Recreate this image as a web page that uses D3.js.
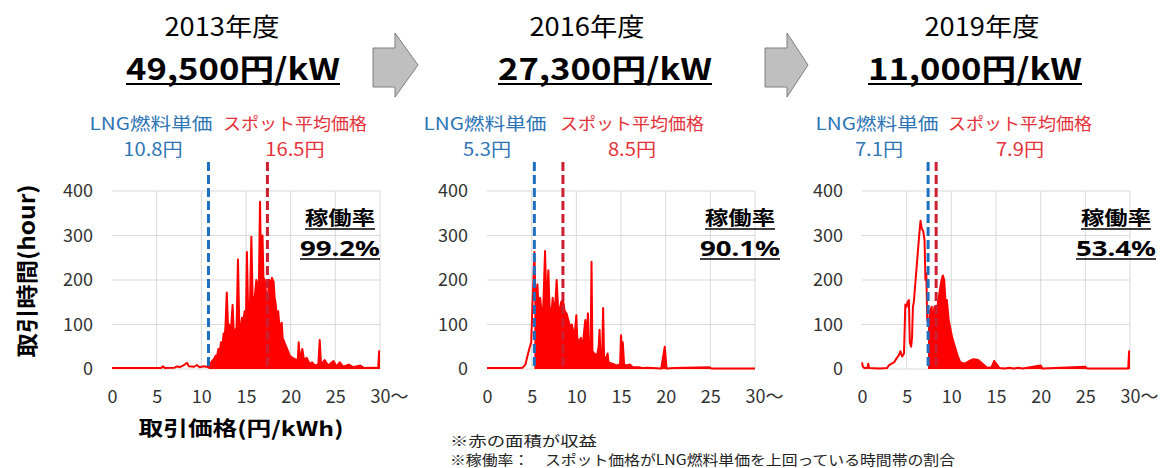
<!DOCTYPE html>
<html>
<head>
<meta charset="utf-8">
<script src="https://cdn.jsdelivr.net/npm/d3@7"></script>
<style>
  body { margin: 0; background: #fff; }
  svg { display: block; font-family: "Noto Sans CJK JP", "Noto Sans", sans-serif; }
</style>
</head>
<body>
<svg id="chart" width="1166" height="468"></svg>
<script>
const years = ["2013年度", "2016年度", "2019年度"];
const capacityPrices = ["49,500円/kW", "27,300円/kW", "11,000円/kW"];
const lngLabels = ["10.8円", "5.3円", "7.1円"];
const spotLabels = ["16.5円", "8.5円", "7.9円"];
const rates = ["99.2%", "90.1%", "53.4%"];
// where the dashed markers are drawn on the price axis
const lngMarker = [10.8, 5.3, 7.4];
const spotMarker = [17.4, 8.5, 8.3];
const xTicks = [0, 5, 10, 15, 20, 25, 30];
const yTicks = [0, 100, 200, 300, 400];

// [price (円/kWh), hours]
const series2013 = [[0,2],[5.5,2],[5.7,6],[5.9,2],[7.0,3],[7.3,6],[7.6,4],[8.0,8],[8.4,14],[8.6,6],[9.2,5],[9.5,9],[9.8,4],[10.3,6],[10.8,4],
  [11.0,12],[11.2,18],[11.4,22],[11.6,30],[11.8,32],[11.9,45],[12.0,35],[12.1,45],[12.2,60],[12.3,50],[12.4,60],[12.5,80],[12.6,70],[12.7,95],[12.85,172],[13.0,90],
  [13.1,100],[13.2,70],[13.35,100],[13.5,144],[13.65,75],[13.8,85],[13.95,95],
  [14.1,246],[14.25,100],[14.4,90],[14.55,115],[14.7,105],[14.85,130],[15.0,120],[15.1,263],[15.25,120],[15.35,145],[15.45,150],[15.6,297],[15.75,150],[15.9,160],
  [16.0,165],[16.15,200],[16.3,180],[16.45,200],[16.57,376],[16.7,210],[16.85,300],[16.95,205],[17.1,200],[17.2,180],[17.35,150],[17.5,175],[17.6,200],[17.75,190],
  [17.9,205],[18.1,195],[18.2,160],[18.3,150],[18.45,120],[18.6,130],[18.75,95],[18.9,100],[19.0,104],[19.1,70],[19.3,60],[19.6,45],[19.8,35],[19.9,30],[20.2,25],
  [20.5,22],[20.8,20],[20.9,60],[21.0,30],[21.2,35],[21.3,45],[21.5,20],[21.8,25],[22.1,12],[22.4,15],[22.7,8],[23.1,10],[23.25,65],[23.4,10],[23.8,20],[24.2,8],
  [24.8,18],[25.1,6],[25.5,15],[25.9,5],[26.5,10],[27.0,4],[27.8,8],[28.2,2],[29.3,3],[29.8,2],[29.9,40],[30,40]];

const series2016 = [[0,2],[3.5,2],[4.0,3],[4.3,10],[4.6,35],[4.8,50],[4.95,60],[5.1,150],[5.2,200],[5.3,263],[5.4,180],[5.5,140],[5.65,190],[5.8,120],[5.95,160],
  [6.1,130],[6.3,140],[6.5,265],[6.65,150],[6.75,170],[6.87,222],[7.0,140],[7.2,120],[7.35,160],[7.5,130],[7.65,150],[7.8,200],[7.95,140],[8.1,130],[8.3,150],
  [8.5,155],[8.7,130],[8.9,125],[9.1,110],[9.3,95],[9.5,100],[9.7,80],[9.85,85],[10.0,121],[10.1,70],[10.3,60],[10.5,70],[10.7,50],[11.0,110],[11.1,60],
  [11.3,125],[11.4,50],[11.6,45],[11.7,241],[11.8,40],[12.0,35],[12.3,30],[12.5,50],[12.6,88],[12.7,30],[12.9,40],[13.0,137],[13.1,30],[13.3,20],[13.5,35],
  [13.6,15],[14.0,12],[14.5,8],[14.9,10],[15.0,76],[15.1,40],[15.2,60],[15.35,10],[15.6,8],[16.0,10],[16.3,4],[17,4],[17.5,2],[18,3],[19.5,1],[19.9,50],[20.1,1],
  [21,2],[24.9,4],[25.1,1],[30,1]];

const series2019 = [[0,15],[0.1,5],[0.3,2],[0.6,2],[0.7,12],[0.8,2],[2.0,1],[2.8,2],[3.0,8],[3.3,12],[3.6,15],[3.9,25],[4.1,30],[4.3,40],[4.5,28],[4.7,35],
  [4.85,145],[5.0,140],[5.1,150],[5.25,155],[5.35,60],[5.5,50],[5.6,70],[5.7,140],[5.8,150],[6.0,200],[6.2,250],[6.4,300],[6.55,333],[6.7,315],[6.85,310],
  [7.0,290],[7.1,200],[7.2,215],[7.3,110],[7.5,100],[7.6,130],[7.8,140],[7.9,95],[8.1,140],[8.3,100],[8.5,150],[8.7,175],[8.9,200],[9.05,210],[9.2,200],
  [9.35,150],[9.5,155],[9.7,110],[9.9,90],[10.1,70],[10.4,50],[10.7,30],[11.0,15],[11.5,12],[12.0,18],[12.5,22],[13.0,20],[13.5,12],[14.0,3],[14.5,4],
  [14.8,18],[15.1,10],[15.4,2],[16,1],[16.5,3],[17,1],[17.5,3],[18,1],[20.0,8],[20.2,1],[25.0,5],[25.2,1],[29.8,1],[29.9,40],[30,40]];

const seriesList = [series2013, series2016, series2019];

// layout of the three panels
const panels = [
  { left: 112, titleX: 222, priceX: 233, lngX: 151, spotX: 295, rateX: 340 },
  { left: 487, titleX: 587, priceX: 605, lngX: 485, spotX: 632, rateX: 740 },
  { left: 862, titleX: 982, priceX: 975, lngX: 877, spotX: 1020, rateX: 1116 }
];
const plotW = 268, plotTop = 191, plotBottom = 369;

const svg = d3.select("#chart");

function label(g, txt, x, y, o = {}) {
  const t = g.append("text")
    .attr("x", x).attr("y", y)
    .attr("text-anchor", o.anchor || "middle")
    .attr("font-size", o.size || 16)
    .attr("font-weight", o.bold ? "bold" : "normal")
    .attr("fill", o.color || "#000")
    .text(txt);
  if (o.family) t.attr("font-family", o.family);
  if (o.stretch) o.width = t.node().getComputedTextLength() * o.stretch;
  if (o.width) t.attr("textLength", o.width).attr("lengthAdjust", "spacingAndGlyphs");
  if (o.underline) {
    const w = o.width || t.node().getComputedTextLength();
    g.append("line")
      .attr("x1", x - w / 2).attr("x2", x + w / 2)
      .attr("y1", y + o.underline).attr("y2", y + o.underline)
      .attr("stroke", "#000").attr("stroke-width", o.uw || 2);
  }
  return t;
}

panels.forEach((p, i) => {
  const g = svg.append("g");
  const x = d3.scaleLinear().domain([0, 30]).range([p.left, p.left + plotW]);
  const y = d3.scaleLinear().domain([0, 400]).range([plotBottom, plotTop]);

  // gridlines
  g.append("g").selectAll("line").data(yTicks).join("line")
    .attr("x1", x(0)).attr("x2", x(30))
    .attr("y1", d => y(d)).attr("y2", d => y(d))
    .attr("stroke", "#d9d9d9").attr("stroke-width", 1);
  g.append("g").selectAll("line").data(xTicks.filter(d => d > 0)).join("line")
    .attr("x1", d => x(d)).attr("x2", d => x(d))
    .attr("y1", y(0)).attr("y2", y(400))
    .attr("stroke", "#d9d9d9").attr("stroke-width", 1);

  // axes
  const xAxis = g.append("g")
    .attr("transform", `translate(0,${plotBottom})`)
    .call(d3.axisBottom(x).tickValues(xTicks).tickSize(0).tickPadding(21)
      .tickFormat(d => d === 30 ? "30～" : d));
  const yAxis = g.append("g")
    .attr("transform", `translate(${p.left},0)`)
    .call(d3.axisLeft(y).tickValues(yTicks).tickSize(0).tickPadding(19));
  [xAxis, yAxis].forEach(a => {
    a.select(".domain").remove();
    a.selectAll("text").attr("font-size", 18).attr("fill", "#333")
      .attr("font-family", "'Noto Sans CJK JP', sans-serif");
  });
  xAxis.selectAll("text").filter(d => d === 30)
    .attr("text-anchor", "start").attr("dx", "-0.56em");

  // revenue area (right of LNG price) and full line
  const data = seriesList[i];
  const clipId = "clip" + i;
  g.append("clipPath").attr("id", clipId).append("rect")
    .attr("x", x(lngMarker[i])).attr("y", plotTop - 10)
    .attr("width", x(30) - x(lngMarker[i]) + 2).attr("height", plotBottom - plotTop + 10);

  g.append("path").datum(data)
    .attr("clip-path", `url(#${clipId})`)
    .attr("fill", "#ff0000")
    .attr("d", d3.area().x(d => x(d[0])).y0(y(0)).y1(d => y(d[1])));
  g.append("path").datum(data)
    .attr("fill", "none").attr("stroke", "#ff0000").attr("stroke-width", 2)
    .attr("stroke-linejoin", "round")
    .attr("d", d3.line().x(d => x(d[0])).y(d => y(d[1])));

  // dashed markers
  [[lngMarker[i], "#1f6fc0"], [spotMarker[i], "#cc2030"]].forEach(([v, c]) => {
    g.append("line")
      .attr("x1", x(v)).attr("x2", x(v))
      .attr("y1", 162).attr("y2", plotBottom + 1)
      .attr("stroke", c).attr("stroke-width", 3)
      .attr("stroke-dasharray", "9,4");
  });

  // headings
  label(g, years[i], p.titleX, 36, { size: 25, width: 115 });
  label(g, capacityPrices[i], p.priceX, 80, { size: 30, bold: true, width: 214, underline: 4, uw: 2 });
  label(g, "LNG燃料単価", p.lngX, 130, { size: 17, color: "#2e75b6", width: 123 });
  label(g, lngLabels[i], p.lngX + 2, 156, { size: 18, color: "#2e75b6", stretch: 1.12 });
  label(g, "スポット平均価格", p.spotX, 130, { size: 17, color: "#e5323a", width: 144 });
  label(g, spotLabels[i], p.spotX, 156, { size: 18, color: "#e5323a", stretch: 1.12 });

  // operating rate
  label(g, "稼働率", p.rateX, 225, { size: 19, bold: true, width: 70, underline: 4, uw: 1.5 });
  label(g, rates[i], p.rateX, 256, { size: 22, bold: true, width: 80, underline: 3, uw: 1.5,
    family: "'Noto Sans', sans-serif" });
});

// axis titles
label(svg, "取引価格(円/kWh)", 241, 436, { size: 20, bold: true, width: 205 });
svg.append("g").attr("transform", "translate(35,271) rotate(-90)")
  .call(gg => label(gg, "取引時間(hour)", 0, 0, { size: 22, bold: true, width: 173 }));

// arrows between years
[[373, 395, 418], [765, 787, 808]].forEach(([x0, xh, xt]) => {
  svg.append("path")
    .attr("d", `M${x0},48 L${xh},48 L${xh},33 L${xt},65 L${xh},97 L${xh},87 L${x0},87 Z`)
    .attr("fill", "#bfbfbf").attr("stroke", "#7f7f7f").attr("stroke-width", 1);
});

// notes
label(svg, "※赤の面積が収益", 450, 446, { size: 14, anchor: "start", color: "#222", width: 147 });
label(svg, "※稼働率：　スポット価格がLNG燃料単価を上回っている時間帯の割合", 450, 465,
  { size: 14, anchor: "start", color: "#222", width: 505 });
</script>
</body>
</html>
